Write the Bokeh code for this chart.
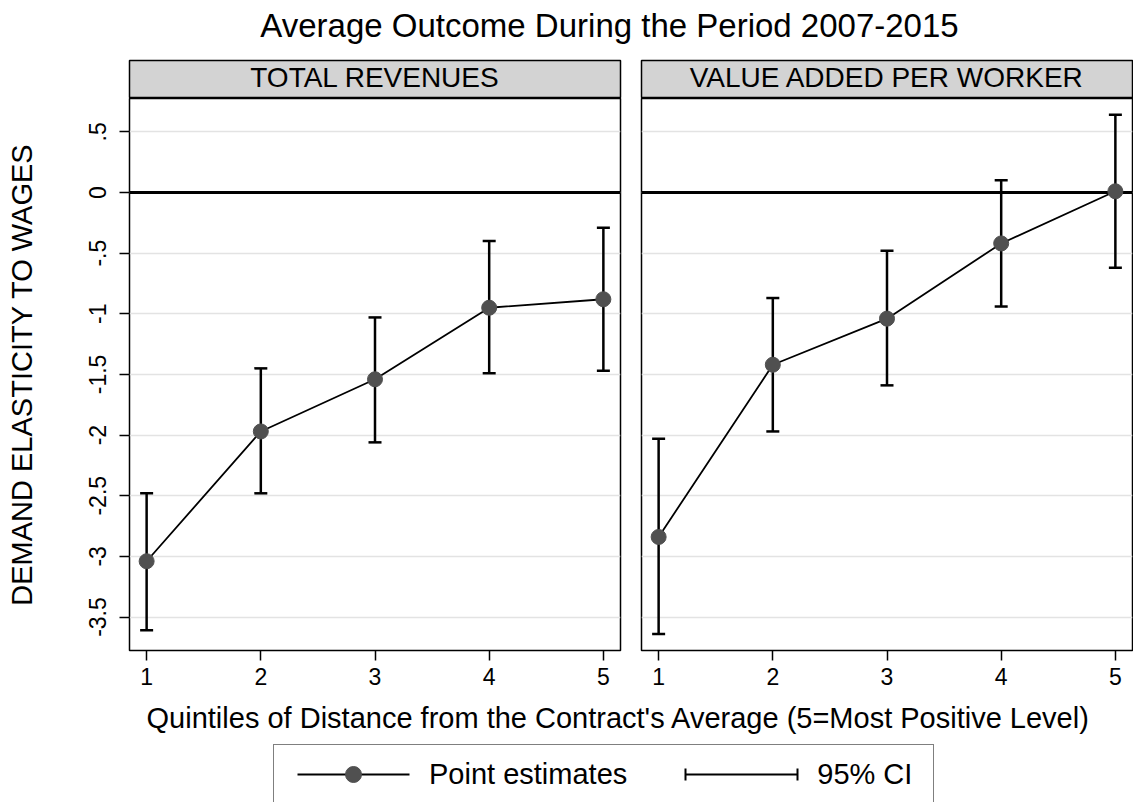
from bokeh.plotting import figure
from bokeh.models import (Range1d, FixedTicker, Span, Whisker, TeeHead, ColumnDataSource,
                          Label, Legend, LegendItem)
from bokeh.layouts import column, row
from bokeh.embed import file_html
from bokeh.resources import INLINE

FONT = "Liberation Sans"

# ---------------- data ----------------
quintiles = [1, 2, 3, 4, 5]
panel_titles = ["TOTAL REVENUES", "VALUE ADDED PER WORKER"]

rev_est = [-3.04, -1.97, -1.54, -0.95, -0.88]
rev_lo = [-3.61, -2.48, -2.06, -1.49, -1.47]
rev_hi = [-2.48, -1.45, -1.03, -0.40, -0.29]

va_est = [-2.84, -1.42, -1.04, -0.42, 0.01]
va_lo = [-3.64, -1.97, -1.59, -0.94, -0.62]
va_hi = [-2.03, -0.87, -0.48, 0.10, 0.64]

y_ticks = [0.5, 0.0, -0.5, -1.0, -1.5, -2.0, -2.5, -3.0, -3.5]
y_tick_labels = [".5", "0", "-.5", "-1", "-1.5", "-2", "-2.5", "-3", "-3.5"]
x_tick_labels = ["1", "2", "3", "4", "5"]

title_text = "Average Outcome During the Period 2007-2015"
x_label = "Quintiles of Distance from the Contract's Average (5=Most Positive Level)"
y_label = "DEMAND ELASTICITY TO WAGES"
legend_labels = ["Point estimates", "95% CI"]

# ---------------- layout constants ----------------
X_RANGE = (0.85, 5.15)
Y_RANGE = (-3.776, 0.775)
MARKER_COLOR = "#505050"
STRIP_COLOR = "#d3d3d3"
W_LEFT, W_RIGHT = 630, 503
BL = {True: 129, False: 11}
BR = {True: 10, False: 1}


def style_blank(f):
    f.grid.visible = False
    f.background_fill_color = "white"
    f.border_fill_color = "white"
    return f


def make_strip(title, left):
    s = figure(width=W_LEFT if left else W_RIGHT, height=39,
               x_range=Range1d(0, 1), y_range=Range1d(0, 1),
               output_backend="svg", toolbar_location=None,
               min_border_left=BL[left], min_border_right=BR[left],
               min_border_top=1, min_border_bottom=0,
               x_axis_location=None, y_axis_location=None)
    style_blank(s)
    s.background_fill_color = STRIP_COLOR
    s.outline_line_color = "black"
    s.outline_line_width = 1.5
    s.add_layout(Label(x=0.5, y=21.5, y_units="screen", text=title,
                       text_align="center", text_baseline="middle",
                       text_font=FONT, text_font_size="28px", text_color="black"))
    return s


def make_panel(src, left):
    p = figure(width=W_LEFT if left else W_RIGHT, height=602,
               x_range=Range1d(*X_RANGE), y_range=Range1d(*Y_RANGE),
               output_backend="svg", toolbar_location=None,
               min_border_left=BL[left], min_border_right=BR[left],
               min_border_top=0, min_border_bottom=50,
               y_axis_location="left" if left else None)
    p.background_fill_color = "white"
    p.border_fill_color = "white"
    p.outline_line_color = "black"
    p.outline_line_width = 1.5

    p.xgrid.visible = False
    p.ygrid.ticker = FixedTicker(ticks=y_ticks)
    p.ygrid.grid_line_color = "#e3e3e3"
    p.ygrid.grid_line_width = 1.5

    p.xaxis.ticker = FixedTicker(ticks=quintiles)
    p.xaxis.major_label_overrides = {float(q): t for q, t in zip(quintiles, x_tick_labels)}
    if left:
        p.yaxis.ticker = FixedTicker(ticks=y_ticks)
        p.yaxis.major_label_overrides = {float(v): t for v, t in zip(y_ticks, y_tick_labels)}
        p.yaxis.major_label_orientation = "vertical"
        p.yaxis.axis_label = y_label
        p.yaxis.axis_label_text_font = FONT
        p.yaxis.axis_label_text_font_size = "29px"
        p.yaxis.axis_label_text_font_style = "normal"
        p.yaxis.axis_label_text_color = "black"
        p.yaxis.axis_label_standoff = 49
        p.yaxis.major_label_standoff = 13

    for ax in p.axis:
        ax.axis_line_color = None
        ax.major_tick_out = 10
        ax.major_tick_in = 0
        ax.major_tick_line_width = 1.5
        ax.major_tick_line_color = "black"
        ax.minor_tick_line_color = None
        ax.major_label_text_font = FONT
        ax.major_label_text_font_size = "23px"
        ax.major_label_text_color = "black"
    p.xaxis.major_label_standoff = 7

    zero = Span(location=0, dimension="width", line_color="black", line_width=3, level="underlay")
    p.add_layout(zero)

    wh = Whisker(base="x", upper="hi", lower="lo", source=src,
                 line_color="black", line_width=2.5, level="underlay",
                 upper_head=TeeHead(size=13, line_color="black", line_width=2.5),
                 lower_head=TeeHead(size=13, line_color="black", line_width=2.5))
    p.add_layout(wh)

    p.line("x", "est", source=src, line_color="black", line_width=1.8)
    p.scatter("x", "est", source=src, size=15, marker="circle",
              fill_color=MARKER_COLOR, line_color=MARKER_COLOR)
    return p


src_rev = ColumnDataSource(dict(x=quintiles, est=rev_est, lo=rev_lo, hi=rev_hi))
src_va = ColumnDataSource(dict(x=quintiles, est=va_est, lo=va_lo, hi=va_hi))

# title
tf = style_blank(figure(width=1133, height=59, x_range=Range1d(0, 1), y_range=Range1d(0, 1),
                        output_backend="svg", toolbar_location=None, min_border=0,
                        x_axis_location=None, y_axis_location=None))
tf.outline_line_color = None
tf.add_layout(Label(x=609, y=34, x_units="screen", y_units="screen", text=title_text,
                    text_align="center", text_baseline="middle",
                    text_font=FONT, text_font_size="33px", text_color="black"))

sL = make_strip(panel_titles[0], True)
sR = make_strip(panel_titles[1], False)
pL = make_panel(src_rev, True)
pR = make_panel(src_va, False)

# bottom: x label + legend (legend renderers use the real data, kept out of view)
bf = style_blank(figure(width=1133, height=102, x_range=Range1d(*X_RANGE), y_range=Range1d(10, 11),
                        output_backend="svg", toolbar_location=None, min_border=0,
                        x_axis_location=None, y_axis_location=None))
bf.outline_line_color = None
bf.add_layout(Label(x=618, y=85, x_units="screen", y_units="screen", text=x_label,
                    text_align="center", text_baseline="middle",
                    text_font=FONT, text_font_size="29px", text_color="black"))

r_line = bf.line("x", "est", source=src_rev, line_color="black", line_width=1.8,
                 line_dash="112 40", line_dash_offset=138)
r_pt = bf.scatter("x", "est", source=src_rev, marker="circle",
                  fill_color=MARKER_COLOR, line_color=MARKER_COLOR)
r_ci = bf.segment(x0="x", y0="lo", x1="x", y1="hi", source=src_rev, line_color="black",
                  line_width=2, line_dash="112 40", line_dash_offset=138)
r_caps = bf.patch("x", "est", source=src_rev, fill_color=None, line_color="black", line_width=2,
                  line_dash="12 132", line_dash_offset=22)

legend = Legend(items=[LegendItem(label=legend_labels[0], renderers=[r_line, r_pt]),
                       LegendItem(label=legend_labels[1], renderers=[r_ci, r_caps])],
                orientation="horizontal", location=(273, -2),
                glyph_width=140, glyph_height=40, label_height=40, label_width=107,
                label_standoff=6, spacing=44, padding=9, margin=0,
                border_line_color="black", border_line_width=1.5,
                background_fill_color="white", background_fill_alpha=1.0,
                label_text_font=FONT, label_text_font_size="29px", label_text_color="black")
bf.add_layout(legend, "center")

layout = column(tf, row(column(sL, pL), column(sR, pR)), bf)

with open("out.html", "w") as fh:
    fh.write(file_html(layout, INLINE))
